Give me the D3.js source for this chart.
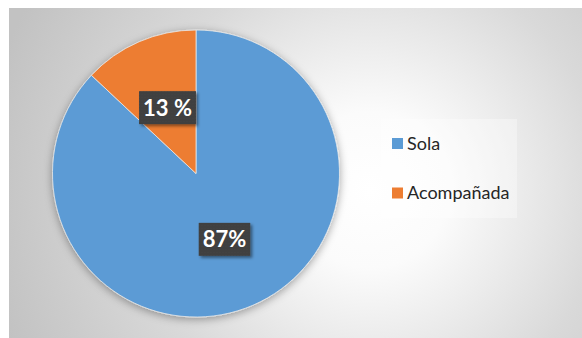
<!DOCTYPE html>
<html>
<head>
<meta charset="utf-8">
<script src="https://cdn.jsdelivr.net/npm/d3@7"></script>
<style>
  html, body { margin: 0; padding: 0; background: #ffffff; }
  svg { display: block; }
</style>
</head>
<body>
<svg id="chart" width="582" height="338"></svg>
<script>
const categories = ["Sola", "Acompañada"];
const values = [87, 13];
const valueLabels = ["87%", "13 %"];
const colors = ["#5B9BD5", "#ED7D31"];

const svg = d3.select("#chart");
const W = 582, H = 338;
const defs = svg.append("defs");

// background gradient
const bg = defs.append("radialGradient").attr("id", "bgGrad")
  .attr("gradientUnits", "userSpaceOnUse")
  .attr("cx", 370).attr("cy", 190).attr("r", 390);
bg.append("stop").attr("offset", "0").attr("stop-color", "#ffffff");
bg.append("stop").attr("offset", "0.2").attr("stop-color", "#fbfbfb");
bg.append("stop").attr("offset", "0.6").attr("stop-color", "#d9d9d9");
bg.append("stop").attr("offset", "1").attr("stop-color", "#c2c2c2");

// pie shadow
const sh = defs.append("filter").attr("id", "pieShadow")
  .attr("x", "-20%").attr("y", "-20%").attr("width", "140%").attr("height", "140%");
sh.append("feDropShadow").attr("dx", 0).attr("dy", 2).attr("stdDeviation", 4)
  .attr("flood-color", "#000").attr("flood-opacity", 0.35);

const lsh = defs.append("filter").attr("id", "lblShadow")
  .attr("x", "-30%").attr("y", "-30%").attr("width", "160%").attr("height", "160%");
lsh.append("feDropShadow").attr("dx", 2).attr("dy", 2).attr("stdDeviation", 1.5)
  .attr("flood-color", "#000").attr("flood-opacity", 0.45);

// dotted label pattern
const pat = defs.append("pattern").attr("id", "dots")
  .attr("patternUnits", "userSpaceOnUse").attr("width", 3).attr("height", 3);
pat.append("rect").attr("width", 3).attr("height", 3).attr("fill", "#3f3f3f");
pat.append("rect").attr("x", 1).attr("y", 1).attr("width", 1).attr("height", 1).attr("fill", "#4b4b4b");

// chart background
svg.append("rect").attr("x", 9).attr("y", 8).attr("width", W - 9).attr("height", H - 8)
  .attr("fill", "url(#bgGrad)");

// pie
const cx = 196, cy = 173.5, R = 143.5;
const pie = d3.pie().sort(null).value(d => d.v);
const data = categories.map((c, i) => ({ c, v: values[i], lbl: valueLabels[i], col: colors[i] }));
const arcs = pie(data);
const arc = d3.arc().innerRadius(0).outerRadius(R);

const g = svg.append("g").attr("transform", `translate(${cx},${cy})`);
g.append("g").attr("filter", "url(#pieShadow)")
  .selectAll("path").data(arcs).join("path")
  .attr("d", arc)
  .attr("fill", d => d.data.col)
  .attr("stroke", "#e8e8e8")
  .attr("stroke-width", 0.8);

// labels
const lg = g.selectAll("g.lbl").data(arcs).join("g").attr("class", "lbl")
  .attr("transform", d => `translate(${arc.centroid(d)})`);
lg.each(function(d) {
  const sel = d3.select(this);
  const rect = sel.append("rect").attr("fill", "url(#dots)").attr("filter", "url(#lblShadow)");
  const t = sel.append("text")
    .attr("text-anchor", "middle")
    .attr("dy", "0.36em")
    .attr("fill", "#ffffff")
    .attr("font-family", "Lato, 'Open Sans', sans-serif")
    .attr("font-weight", "bold")
    .attr("font-size", 22)
    .text(d.data.lbl);
  const bb = t.node().getBBox();
  const w = bb.width + 8, h = 33;
  rect.attr("x", -w / 2).attr("y", -h / 2).attr("width", w).attr("height", h);
});

// legend
const legX = 381, legY = 119, legW = 136, legH = 99;
svg.append("rect").attr("x", legX).attr("y", legY).attr("width", legW).attr("height", legH)
  .attr("fill", "#ffffff").attr("fill-opacity", 0.35);
const legRowY = d3.scalePoint().domain(categories).range([143.5, 193]);
const leg = svg.selectAll("g.leg").data(data).join("g").attr("class", "leg")
  .attr("transform", d => `translate(392,${legRowY(d.c)})`);
leg.append("rect").attr("x", 0).attr("y", -5.5).attr("width", 11).attr("height", 11)
  .attr("fill", d => d.col);
leg.append("text").attr("x", 15).attr("y", 6)
  .attr("fill", "#262626")
  .attr("font-family", "Lato, 'Open Sans', sans-serif")
  .attr("font-size", 18)
  .text(d => d.c);
</script>
</body>
</html>
